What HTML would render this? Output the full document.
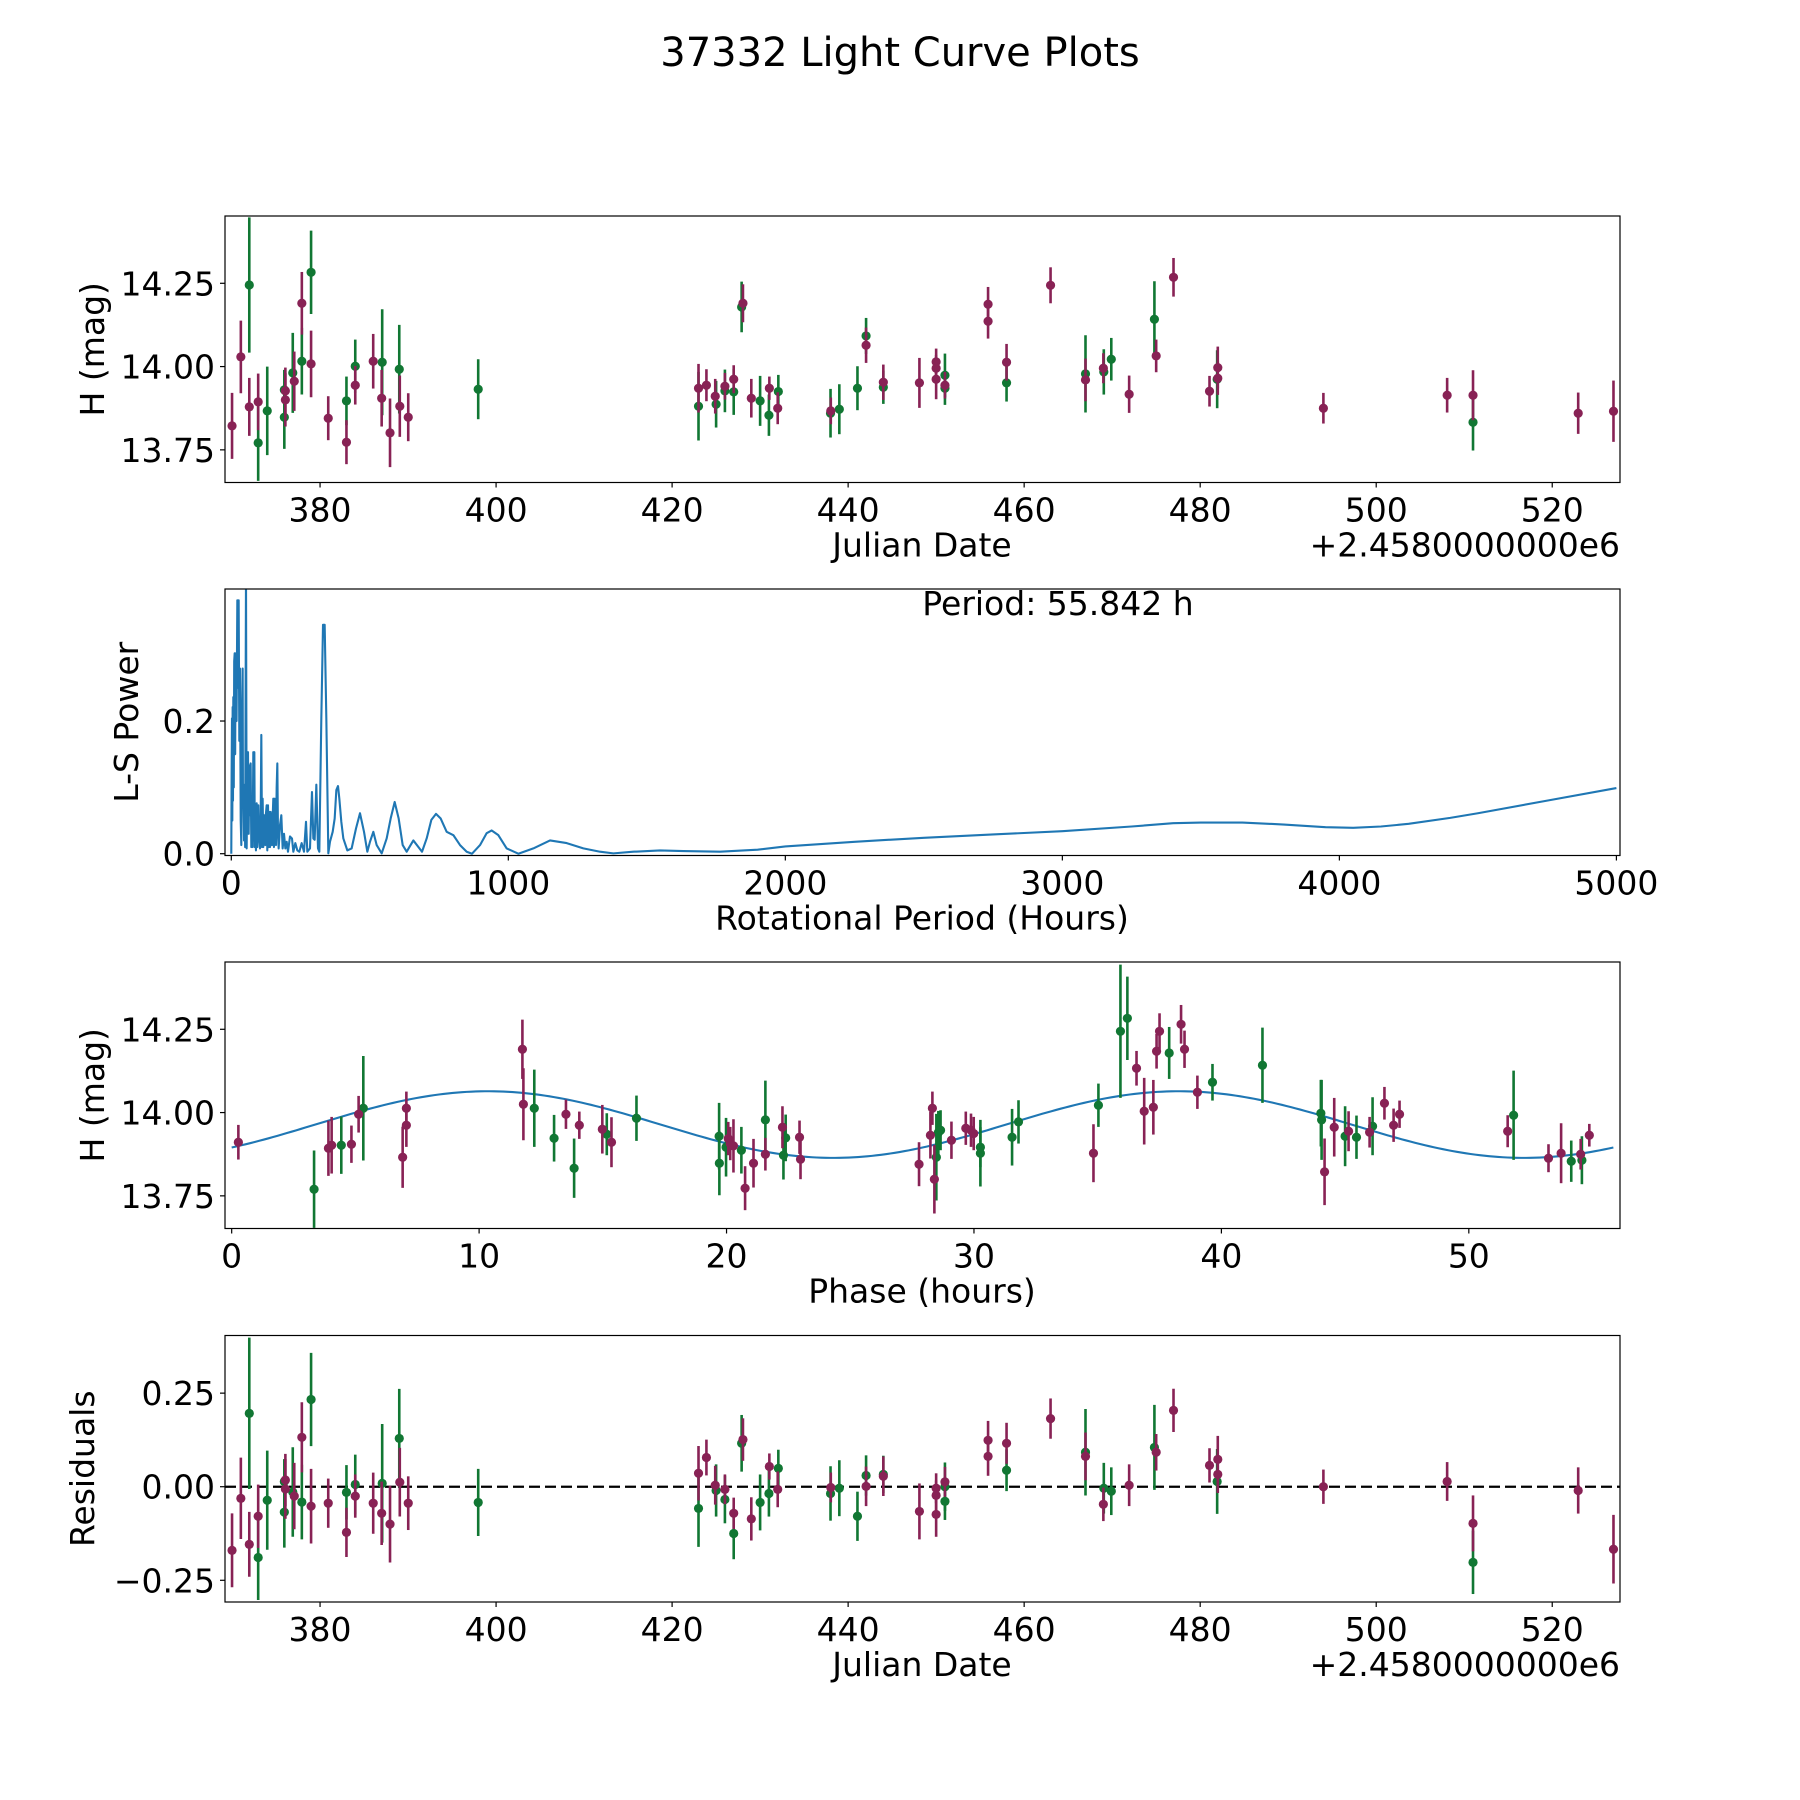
<!DOCTYPE html>
<html><head><meta charset="utf-8"><title>37332 Light Curve Plots</title>
<style>
html,body{margin:0;padding:0;background:#fff;}
svg{display:block;font-family:"DejaVu Sans","Liberation Sans",sans-serif;}
</style></head>
<body>
<svg id="fig" xmlns="http://www.w3.org/2000/svg" width="1800" height="1800" viewBox="0 0 1800 1800">
<rect x="0" y="0" width="1800" height="1800" fill="#fff"/>
<text x="900" y="66" font-size="40" text-anchor="middle">37332 Light Curve Plots</text>
</svg>
<script>
// ---------- Observations (panel 1 & 4) ----------
const jd = [370.0,371.0,371.96,371.96,372.97,372.97,374.0,375.94,375.94,376.06,376.06,376.9,377.07,377.93,377.93,378.98,378.98,380.93,383.0,383.0,384.0,384.0,386.04,387.06,387.0,387.95,389.0,389.06,390.02,397.97,423.0,423.0,423.9,424.9,425.0,426.0,426.0,427.0,427.0,427.9,428.05,429.0,430.0,431.05,431.0,432.07,432.0,438.03,438.0,439.0,441.06,442.04,442.04,444.0,444.0,448.1,450.0,450.0,450.0,451.0,451.0,451.0,455.9,455.9,458.0,458.0,463.0,466.97,466.97,469.0,469.05,469.9,471.93,474.8,475.0,476.97,481.06,481.93,482.0,482.0,494.0,508.06,511.0,511.0,522.95,526.96];
const mag = [13.822,14.029,14.245,13.879,13.894,13.771,13.867,13.930,13.848,13.927,13.900,13.981,13.956,14.016,14.19,14.283,14.008,13.845,13.897,13.773,14.001,13.944,14.016,14.013,13.905,13.801,13.992,13.881,13.848,13.932,13.935,13.881,13.944,13.911,13.887,13.927,13.941,13.962,13.924,14.179,14.19,13.905,13.897,13.935,13.854,13.925,13.875,13.867,13.86,13.872,13.935,14.092,14.064,13.953,13.938,13.951,14.014,13.995,13.962,13.974,13.944,13.935,14.187,14.136,14.013,13.951,14.244,13.978,13.96,13.995,13.984,14.022,13.917,14.142,14.032,14.268,13.926,13.962,13.997,13.965,13.875,13.914,13.914,13.833,13.86,13.866];
const magErr = [.099,.109,.203,.087,.085,.114,.133,.06,.095,.07,.08,.12,.089,.1,.094,.125,.1,.066,.073,.066,.08,.058,.082,.159,.085,.103,.133,.092,.072,.09,.073,.103,.048,.052,.07,.064,.04,.042,.069,.076,.057,.058,.075,.035,.062,.05,.048,.04,.073,.075,.066,.054,.053,.053,.05,.075,.04,.04,.06,.065,.04,.05,.052,.052,.055,.056,.054,.116,.064,.045,.068,.064,.056,.114,.049,.058,.046,.087,.063,.05,.046,.052,.075,.085,.062,.092];
const band = ["M","M","G","M","M","G","G","G","G","M","M","G","M","G","M","G","M","M","G","M","G","M","M","G","M","M","G","M","M","G","M","G","M","M","G","G","M","M","G","G","M","M","G","M","G","G","M","M","G","G","G","G","M","M","G","M","M","M","M","G","M","G","M","M","M","G","M","G","M","M","G","G","M","G","M","M","M","G","M","M","M","M","M","G","M","M"];
const resid = [-0.170,-0.031,0.196,-0.154,-0.079,-0.189,-0.036,0.014,-0.068,0.018,-0.006,-0.014,-0.025,-0.041,0.132,0.233,-0.052,-0.044,-0.015,-0.122,0.006,-0.025,-0.044,0.009,-0.071,-0.1,0.129,0.012,-0.044,-0.042,0.036,-0.058,0.078,0.004,-0.01,-0.034,-0.007,-0.071,-0.125,0.116,0.126,-0.086,-0.042,0.054,-0.018,0.049,-0.007,-0.002,-0.018,-0.004,-0.079,0.03,0.001,0.028,0.033,-0.066,-0.004,-0.023,-0.074,0.0,0.013,-0.039,0.124,0.081,0.116,0.044,0.182,0.092,0.081,-0.047,-0.004,-0.012,0.004,0.105,0.092,0.204,0.057,0.014,0.073,0.033,0.0,0.014,-0.098,-0.202,-0.01,-0.167];

// ---------- Phase-folded (panel 3) ----------
const phase = [0.27,3.33,3.91,4.04,4.43,4.84,5.13,5.32,6.91,7.06,7.06,11.75,11.79,12.23,13.03,13.51,13.84,14.05,14.98,15.16,15.35,16.36,19.7,19.71,19.98,20.07,20.15,20.28,20.6,20.75,21.09,21.57,21.57,22.26,22.3,22.39,22.95,22.99,27.78,28.24,28.32,28.4,28.48,28.56,28.65,29.09,29.67,29.88,29.99,30.26,30.26,31.54,31.8,34.83,35.03,35.92,36.2,36.57,36.88,37.25,37.38,37.5,37.89,38.37,38.51,39.03,39.64,41.66,44.02,44.05,44.17,44.56,45.0,45.14,45.46,45.99,46.11,46.59,46.96,47.2,51.57,51.81,53.22,53.73,54.14,54.52,54.57,54.87];
const phaseMag = [13.911,13.770,13.893,13.902,13.902,13.905,13.995,14.013,13.866,13.962,14.013,14.19,14.025,14.013,13.923,13.995,13.833,13.962,13.95,13.935,13.911,13.983,13.929,13.848,13.896,13.922,13.907,13.9,13.887,13.773,13.848,13.978,13.875,13.956,13.872,13.924,13.926,13.86,13.845,13.932,14.013,13.8,13.866,13.94,13.947,13.917,13.953,13.947,13.937,13.896,13.878,13.926,13.972,13.878,14.022,14.244,14.283,14.133,14.004,14.016,14.184,14.244,14.179,14.265,14.19,14.061,14.091,14.142,13.998,13.978,13.822,13.956,13.929,13.944,13.926,13.941,13.959,14.028,13.962,13.995,13.944,13.992,13.863,13.878,13.854,13.875,13.857,13.932];
const phaseErr = [.052,.116,.083,.085,.086,.056,.055,.157,.092,.065,.05,.089,.108,.116,.07,.044,.089,.041,.073,.063,.075,.068,.1,.096,.088,.05,.05,.08,.07,.066,.073,.118,.049,.063,.073,.07,.05,.06,.066,.07,.05,.103,.13,.065,.06,.056,.05,.05,.05,.06,.1,.085,.065,.087,.065,.2,.125,.052,.1,.082,.052,.054,.078,.058,.056,.05,.055,.113,.1,.12,.1,.088,.09,.06,.065,.046,.087,.049,.05,.041,.048,.134,.042,.09,.062,.046,.072,.034];
const phaseBand = ["M","G","M","M","G","M","M","G","M","M","M","M","M","G","G","M","G","M","M","G","M","G","G","G","G","M","M","M","G","M","M","G","M","M","G","G","M","M","M","M","M","M","G","G","G","M","M","M","M","G","G","G","G","M","G","G","G","M","M","M","M","M","G","M","M","M","G","G","G","G","M","M","G","M","G","M","G","M","M","M","M","G","M","M","G","M","G","M"];
const periodHours = 55.842;
const modelMean = 13.964;
const modelAmp = 0.1;
const modelPhaseOffset = -0.76;

// ---------- Periodogram (panel 2) ----------
const lsPeriod = [0,1.2,2.5,3.7,4.9,6.1,7.3,9,10.5,12.2,14,15.5,17,19,21.8,24,26.6,29,31.4,34,36.2,38.6,41,42,43.4,46,48.3,50,53.1,55.5,57.9,60.3,62.7,65.1,67.5,69.9,72.3,74.7,77,79.5,81,83.2,85,86.8,89,91.6,94,97.6,100,103.6,106,108.4,111,113.2,115.6,118.1,120,122.9,125,127.7,130,132.5,135,137.3,140,142.1,146.9,149,151.7,154,156.6,161.4,163.8,166.2,168.6,171.0,175.8,180.6,185.4,190.3,195.1,199.9,204.7,211.9,219.1,224.0,231.2,238.4,245.6,254.0,262.5,269.7,274.5,284.1,291.3,296.2,301.0,307.0,313.0,317.8,325.0,331.1,337.1,343.1,350.3,356.3,366.0,373.2,379.2,385.2,390.0,397.2,404.5,418.9,434.5,450.2,464.6,479.1,491.1,500.7,512.8,524.8,542.9,560.9,575.3,589.8,604.2,618.7,633.1,657.2,688.5,705.3,722.2,739.0,755.9,777.5,801.6,825.7,849.7,869.0,897.9,921.9,940.0,964.0,994.1,1036.2,1090.4,1150.6,1210.7,1270.9,1331.1,1379.2,1451.4,1547.7,1631.9,1764.3,1900,2000,2250,2500,2750,3000,3250,3400,3500,3650,3800,3950,4050,4150,4250,4400,4500,4750,5000];
const lsPower = [0,.12,.204,.05,.221,.08,.236,.1,.29,.302,.15,.3,.302,.2,.382,.25,.382,.170,.279,.05,.013,.2,.279,.1,.104,.02,.104,.01,.42,.008,.12,.153,.03,.133,.058,.136,.01,.058,.01,.153,.02,.153,.01,.058,.005,.076,.01,.073,.03,.008,.05,.179,.01,.083,.01,.058,.02,.013,.06,.073,.005,.073,.01,.063,.01,.063,.013,.05,.083,.01,.083,.013,.1,.136,.03,.008,.043,.058,.008,.030,.008,.018,.003,.026,.023,.003,.016,.005,.003,.016,.003,.048,.003,.008,.093,.023,.021,.104,.008,.003,.204,.345,.345,.204,.0005,.018,.033,.053,.096,.102,.083,.048,.023,.005,.008,.038,.061,.033,.003,.018,.033,.013,.0005,.023,.053,.078,.053,.013,.003,.020,.003,.023,.051,.060,.053,.033,.028,.013,.003,0,.013,.031,.035,.028,.008,0,.008,.020,.016,.008,.003,.0005,.003,.005,.004,.003,.006,.011,.018,.024,.029,.034,.041,.046,.047,.047,.044,.040,.039,.041,.045,.054,.061,.080,.099];

const jdTicks = [380,400,420,440,460,480,500,520];
const magTicks = [13.75,14.00,14.25];
const magTickLabels = ["13.75","14.00","14.25"];
const lsXTicks = [0,1000,2000,3000,4000,5000];
const lsYTicks = [0,0.2];
const lsYTickLabels = ["0.0","0.2"];
const phaseTicks = [0,10,20,30,40,50];
const residTicks = [-0.25,0,0.25];
const residTickLabels = ["\u22120.25","0.00","0.25"];

const NS = "http://www.w3.org/2000/svg";
const svg = document.getElementById("fig");
const COL = {G:"#117733", M:"#882255"};
const FS = 33;

function mk(tag, attrs, parent){
  const e = document.createElementNS(NS, tag);
  for (const k in attrs) e.setAttribute(k, attrs[k]);
  (parent||svg).appendChild(e);
  return e;
}
function scale(d0,d1,p0,p1){ return v => p0 + (v-d0)*(p1-p0)/(d1-d0); }

const L = 225, R = 1620;
function makeAxes(name, top, bottom, xd, yd){
  const g = mk("g", {});
  
  
  const sx = scale(xd[0], xd[1], L, R);
  const sy = scale(yd[0], yd[1], bottom, top);
  const clipId = name + "-clip";
  const cp = mk("clipPath", {id: clipId}, g);
  mk("rect", {x:L, y:top, width:R-L, height:bottom-top}, cp);
  const plot = mk("g", {"clip-path":"url(#"+clipId+")"}, g);
  
  
  return {g, plot, sx, sy, top, bottom};
}
function frame(ax){
  const r = mk("rect", {x:L, y:ax.top, width:R-L, height:ax.bottom-ax.top, fill:"none", stroke:"#000", "stroke-width":1.2}, ax.g);
  
  
}
function xTicks(ax, ticks, labels){
  ticks.forEach((t,i) => {
    const x = ax.sx(t);
    const tk = mk("line", {x1:x, x2:x, y1:ax.bottom, y2:ax.bottom+5, stroke:"#000", "stroke-width":1.2}, ax.g);
    
    
    const tx = mk("text", {x:x, y:ax.bottom+39, "font-size":FS, "text-anchor":"middle"}, ax.g);
    tx.textContent = labels ? labels[i] : String(t);
    
    
  });
}
function yTicks(ax, ticks, labels){
  ticks.forEach((t,i) => {
    const y = ax.sy(t);
    const tk = mk("line", {x1:L-5, x2:L, y1:y, y2:y, stroke:"#000", "stroke-width":1.2}, ax.g);
    
    
    const tx = mk("text", {x:L-10, y:y+12, "font-size":FS, "text-anchor":"end"}, ax.g);
    tx.textContent = labels[i];
    
    
  });
}
function xLabel(ax, text, name){
  const t = mk("text", {x:922, y:ax.bottom+74, "font-size":FS, "text-anchor":"middle"}, ax.g);
  t.textContent = text;
  
  
}
function yLabel(ax, text, cx, name){
  const cy = (ax.top+ax.bottom)/2;
  const t = mk("text", {x:0, y:0, "font-size":FS, "text-anchor":"middle", transform:"translate("+(cx+12)+","+cy+") rotate(-90)"}, ax.g);
  t.textContent = text;
  
  
}
function offsetText(ax){
  const t = mk("text", {x:R, y:ax.bottom+74, "font-size":FS, "text-anchor":"end"}, ax.g);
  t.textContent = "+2.4580000000e6";
  
  
}
function errPoints(ax, xs, ys, es, bs, name){
  ["G","M"].forEach(b => {
    for (let i=0;i<xs.length;i++){
      if (bs[i] !== b) continue;
      const x = ax.sx(xs[i]), y = ax.sy(ys[i]);
      const ln = mk("line", {x1:x, x2:x, y1:ax.sy(ys[i]+es[i]), y2:ax.sy(ys[i]-es[i]), stroke:COL[b], "stroke-width":2.6}, ax.plot);
      
      
      const c = mk("circle", {cx:x, cy:y, r:4.6, fill:COL[b]}, ax.plot);
      
      
    }
  });
}

// Panel 1: light curve
const magDom = [13.652, 14.452];
const ax1 = makeAxes("light-curve-panel", 216, 482.5, [369.2, 527.7], magDom);
errPoints(ax1, jd, mag, magErr, band, "observation");
frame(ax1);
xTicks(ax1, jdTicks); yTicks(ax1, magTicks, magTickLabels);
xLabel(ax1, "Julian Date", "x-axis-title-julian-date");
yLabel(ax1, "H (mag)", 92, "y-axis-title-h-mag");
offsetText(ax1);

// Panel 2: periodogram
const ax2 = makeAxes("periodogram-panel", 589, 855.5, [-22.7, 5013], [-0.0027, 0.399]);
let d = "";
for (let i=0;i<lsPeriod.length;i++) d += (i?"L":"M") + ax2.sx(lsPeriod[i]).toFixed(2) + "," + ax2.sy(lsPower[i]).toFixed(2);
const pl = mk("path", {d:d, fill:"none", stroke:"#1f77b4", "stroke-width":2.1, "stroke-linejoin":"round"}, ax2.plot);


frame(ax2);
xTicks(ax2, lsXTicks); yTicks(ax2, lsYTicks, lsYTickLabels);
xLabel(ax2, "Rotational Period (Hours)", "x-axis-title-rotational-period");
yLabel(ax2, "L-S Power", 126, "y-axis-title-ls-power");
const pt = mk("text", {x:1058, y:615, "font-size":FS, "text-anchor":"middle"});
pt.textContent = "Period: " + periodHours.toFixed(3) + " h";



// Panel 3: phase folded
const ax3 = makeAxes("phase-panel", 962, 1228.5, [-0.27, 56.11], magDom);
let md = "";
const N = 300;
for (let k=0;k<=N;k++){
  const p = periodHours*k/N;
  const v = modelMean + modelAmp*Math.sin(4*Math.PI*p/periodHours + modelPhaseOffset);
  md += (k?"L":"M") + ax3.sx(p).toFixed(2) + "," + ax3.sy(v).toFixed(2);
}
const ml = mk("path", {d:md, fill:"none", stroke:"#1f77b4", "stroke-width":2.1}, ax3.plot);


errPoints(ax3, phase, phaseMag, phaseErr, phaseBand, "phased-observation");
frame(ax3);
xTicks(ax3, phaseTicks); yTicks(ax3, magTicks, magTickLabels);
xLabel(ax3, "Phase (hours)", "x-axis-title-phase");
yLabel(ax3, "H (mag)", 92, "y-axis-title-h-mag-phase");

// Panel 4: residuals
const ax4 = makeAxes("residuals-panel", 1335.5, 1602, [369.2, 527.7], [-0.308, 0.404]);
const zl = mk("line", {x1:L, x2:R, y1:ax4.sy(0), y2:ax4.sy(0), stroke:"#000", "stroke-width":2.2, "stroke-dasharray":"11,5"}, ax4.plot);


errPoints(ax4, jd, resid, magErr.map(e=>e*333.3/374.7*1.12), band, "residual");
frame(ax4);
xTicks(ax4, jdTicks); yTicks(ax4, residTicks, residTickLabels);
xLabel(ax4, "Julian Date", "x-axis-title-julian-date-residuals");
yLabel(ax4, "Residuals", 82, "y-axis-title-residuals");
offsetText(ax4);
</script>
</body></html>
